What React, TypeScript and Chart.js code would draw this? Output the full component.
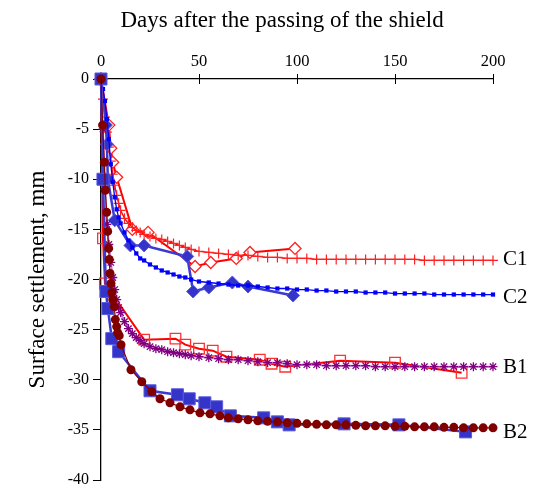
import React, { useEffect, useRef } from "react";
import { Chart, registerables } from "chart.js";

Chart.register(...registerables);

const FONT = "'Liberation Serif', 'Times New Roman', serif";

// ---- Data ----
const xTicks = [0, 50, 100, 150, 200];
const yTicks = [0, -5, -10, -15, -20, -25, -30, -35, -40];
const xTitle = "Days after the passing of the shield";
const yTitle = "Surface settlement, mm";

const c1DiamondDays = [0, 4, 5, 6, 8, 16, 24, 48, 56, 69, 76, 99];
const c1DiamondVals = [0, -4.6, -6.9, -8.3, -9.8, -15.0, -15.3, -18.7, -18.3, -17.9, -17.3, -16.9];

const c1CrossDays = [0, 1, 2, 3, 4, 5, 6, 7, 8, 9, 10, 12, 14, 16, 18, 20, 22, 25, 28, 31, 34, 37, 40, 43, 46, 50, 55, 60, 65, 70, 75, 80, 85, 90, 95, 100, 105, 110, 115, 120, 125, 130, 135, 140, 145, 150, 155, 160, 165, 170, 175, 180, 185, 190, 195, 200];
const c1CrossVals = [0, -2.0, -3.8, -5.3, -6.8, -8.2, -9.5, -10.6, -11.6, -12.4, -13.1, -13.9, -14.4, -14.8, -15.1, -15.3, -15.5, -15.7, -15.9, -16.0, -16.2, -16.4, -16.6, -16.8, -17.0, -17.2, -17.3, -17.4, -17.5, -17.6, -17.6, -17.7, -17.8, -17.8, -17.9, -17.9, -17.9, -18.0, -18.0, -18.0, -18.0, -18.0, -18.0, -18.0, -18.0, -18.0, -18.0, -18.0, -18.1, -18.1, -18.1, -18.1, -18.1, -18.1, -18.1, -18.1];

const c2DiamondDays = [0, 2.5, 3, 3.5, 7, 15, 22, 44, 47, 55, 67, 75, 98];
const c2DiamondVals = [0, -4.6, -6.5, -10.0, -14.1, -16.6, -16.6, -17.7, -21.2, -20.8, -20.3, -20.7, -21.6];

const c2SquareDays = [0, 1, 2, 3, 4, 5, 6, 7, 8, 9, 10, 12, 14, 16, 18, 20, 22, 25, 28, 31, 34, 37, 40, 43, 46, 50, 55, 60, 65, 70, 75, 80, 85, 90, 95, 100, 105, 110, 115, 120, 125, 130, 135, 140, 145, 150, 155, 160, 165, 170, 175, 180, 185, 190, 195, 200];
const c2SquareVals = [0, -1.0, -2.2, -4.0, -6.0, -8.5, -10.3, -11.8, -13.0, -13.8, -14.4, -15.3, -16.1, -16.8, -17.4, -17.9, -18.1, -18.5, -18.8, -19.1, -19.3, -19.5, -19.7, -19.8, -20.0, -20.2, -20.3, -20.4, -20.5, -20.6, -20.6, -20.7, -20.8, -20.9, -20.9, -21.0, -21.0, -21.1, -21.1, -21.2, -21.2, -21.2, -21.3, -21.3, -21.3, -21.4, -21.4, -21.4, -21.4, -21.5, -21.5, -21.5, -21.5, -21.5, -21.5, -21.5];

const b1SquareDays = [0, 1, 2, 22, 38, 43, 50, 57, 64, 81, 87, 94, 122, 150, 184];
const b1SquareVals = [0, -15.9, -20.4, -26.0, -25.9, -26.5, -26.9, -27.1, -27.7, -28.0, -28.4, -28.7, -28.1, -28.3, -29.3];

const b1StarDays = [0, 1, 2, 3, 4, 5, 6, 7, 8, 9, 10, 12, 14, 16, 18, 20, 22, 25, 28, 31, 34, 37, 40, 43, 46, 50, 55, 60, 65, 70, 75, 80, 85, 90, 95, 100, 105, 110, 115, 120, 125, 130, 135, 140, 145, 150, 155, 160, 165, 170, 175, 180, 185, 190, 195, 200];
const b1StarVals = [0, -5.0, -11.0, -14.5, -16.5, -18.3, -19.8, -21.0, -22.0, -22.8, -23.3, -24.2, -24.9, -25.4, -25.8, -26.1, -26.4, -26.7, -26.9, -27.0, -27.2, -27.3, -27.4, -27.5, -27.6, -27.7, -27.8, -27.9, -28.0, -28.0, -28.1, -28.2, -28.3, -28.3, -28.4, -28.5, -28.5, -28.5, -28.6, -28.6, -28.6, -28.6, -28.6, -28.7, -28.7, -28.7, -28.7, -28.7, -28.7, -28.7, -28.7, -28.7, -28.7, -28.7, -28.7, -28.7];

const b2SquareDays = [0, 1, 2.5, 3.5, 5.5, 9, 25, 39, 45, 53, 59, 66, 83, 90, 96, 124, 152, 186];
const b2SquareVals = [0, -10.0, -21.2, -22.9, -25.9, -27.2, -31.1, -31.5, -31.9, -32.3, -32.7, -33.6, -33.8, -34.2, -34.5, -34.4, -34.5, -35.2];

const b2CircleDays = [0, 0.8, 1.7, 2.2, 2.9, 3.4, 3.9, 4.2, 4.6, 5.1, 5.6, 6, 6.8, 7.3, 8, 8.5, 9.3, 10.2, 15.3, 20.8, 25.9, 30.1, 35.2, 40.3, 45.4, 50.5, 55.6, 60.7, 65, 70, 75, 80, 85, 90, 95, 100, 105, 110, 115, 120, 125, 130, 135, 140, 145, 150, 155, 160, 165, 170, 175, 180, 185, 190, 195, 200];
const b2CircleVals = [0, -4.6, -8.3, -11.1, -13.3, -15.2, -16.9, -18.0, -19.4, -20.4, -21.3, -22.0, -22.7, -24.0, -24.7, -25.3, -25.6, -26.5, -29.0, -30.2, -31.2, -31.9, -32.3, -32.7, -33.0, -33.3, -33.4, -33.6, -33.8, -33.9, -34.0, -34.1, -34.15, -34.2, -34.3, -34.35, -34.4, -34.45, -34.5, -34.5, -34.5, -34.55, -34.6, -34.6, -34.6, -34.65, -34.65, -34.7, -34.7, -34.7, -34.75, -34.75, -34.8, -34.8, -34.8, -34.8];

const seriesLabels = ["C1", "C2", "B1", "B2"];
const seriesLabelVals = [c1CrossVals, c2SquareVals, b1StarVals, b2CircleVals];

const pts = (xs: number[], ys: number[]) => xs.map((x, i) => ({ x, y: ys[i] }));

const LABEL_NUDGE = [-1, 3, 1, 5];

const textPlugin = {
  id: "textPlugin",
  afterDraw(chart: any) {
    const { ctx, scales, chartArea } = chart;
    ctx.save();
    // inward half of the x tick marks (ticks cross the axis)
    ctx.strokeStyle = "#000";
    ctx.lineWidth = 1;
    xTicks.forEach((v) => {
      const px = Math.round(scales.x.getPixelForValue(v)) + 0.5;
      ctx.beginPath();
      ctx.moveTo(px, chartArea.top);
      ctx.lineTo(px, chartArea.top + 5);
      ctx.stroke();
    });
    ctx.fillStyle = "#000";
    // end labels
    ctx.font = `21px ${FONT}`;
    ctx.textBaseline = "middle";
    ctx.textAlign = "left";
    seriesLabels.forEach((lab, i) => {
      const vals = seriesLabelVals[i];
      const x = scales.x.getPixelForValue(200) + 10;
      const y = scales.y.getPixelForValue(vals[vals.length - 1]) + LABEL_NUDGE[i];
      ctx.fillText(lab, x, y);
    });
    // x title (top)
    ctx.font = `23px ${FONT}`;
    ctx.textAlign = "center";
    ctx.fillText(xTitle, chartArea.left + (chartArea.right - chartArea.left) * 0.462, 21);
    // y title (rotated)
    ctx.translate(38, (chartArea.top + chartArea.bottom) / 2);
    ctx.rotate(-Math.PI / 2);
    ctx.fillText(yTitle, 0, 0);
    ctx.restore();
  },
};

export default function App() {
  const ref = useRef<HTMLCanvasElement | null>(null);
  useEffect(() => {
    document.body.style.margin = "0";
    const canvas = ref.current;
    if (!canvas) return;
    const base = { showLine: true, tension: 0, clip: false as any };
    const chart = new Chart(canvas, {
      type: "scatter",
      data: {
        datasets: [
          { ...base, label: "B2 circles", data: pts(b2CircleDays, b2CircleVals), borderColor: "#800000", borderWidth: 1.2, pointStyle: "circle", pointRadius: 4.5, pointBackgroundColor: "#800000", pointBorderColor: "#800000", pointBorderWidth: 0 },
          { ...base, label: "B2 squares", data: pts(b2SquareDays, b2SquareVals), borderColor: "#3a3ad0", borderWidth: 2.5, pointStyle: "rect", pointRadius: 8.5, pointBackgroundColor: "#3434c8", pointBorderColor: "#5a5ae0", pointBorderWidth: 1 },
          { ...base, label: "B1 stars", data: pts(b1StarDays, b1StarVals), borderColor: "#c07ad0", borderWidth: 2, pointStyle: "star", pointRadius: 4.5, pointBackgroundColor: "#800080", pointBorderColor: "#800080", pointBorderWidth: 1.3 },
          { ...base, label: "B1 squares", data: pts(b1SquareDays, b1SquareVals), borderColor: "#ff0000", borderWidth: 2, pointStyle: "rect", pointRadius: 7.5, pointBackgroundColor: "rgba(255,255,255,0)", pointBorderColor: "#ff3030", pointBorderWidth: 1.3 },
          { ...base, label: "C2 squares", data: pts(c2SquareDays, c2SquareVals), borderColor: "#0000ff", borderWidth: 1.3, pointStyle: "rect", pointRadius: 3, pointBackgroundColor: "#0000ff", pointBorderColor: "#0000ff", pointBorderWidth: 0 },
          { ...base, label: "C2 diamonds", data: pts(c2DiamondDays, c2DiamondVals), borderColor: "#3a3ad0", borderWidth: 2.5, pointStyle: "rectRot", pointRadius: 6.5, pointBackgroundColor: "#3434c8", pointBorderColor: "#5a5ae0", pointBorderWidth: 1 },
          { ...base, label: "C1 crosses", data: pts(c1CrossDays, c1CrossVals), borderColor: "#ff0000", borderWidth: 1.3, pointStyle: "cross", pointRadius: 5, pointBackgroundColor: "#ff0000", pointBorderColor: "#ff2020", pointBorderWidth: 1.2 },
          { ...base, label: "C1 diamonds", data: pts(c1DiamondDays, c1DiamondVals), borderColor: "#ff0000", borderWidth: 2, pointStyle: "rectRot", pointRadius: 6, pointBackgroundColor: "#ffffff", pointBorderColor: "#ff2020", pointBorderWidth: 1.3 },
        ],
      },
      options: {
        animation: false,
        responsive: false,
        maintainAspectRatio: false,
        layout: { autoPadding: false, padding: { left: 0, right: 40, top: 0, bottom: 6 } },
        plugins: { legend: { display: false }, tooltip: { enabled: false } },
        scales: {
          x: {
            type: "linear",
            position: "top",
            min: 0,
            max: 200,
            afterBuildTicks: (s: any) => { s.ticks = xTicks.map((v) => ({ value: v })); },
            afterFit: (s: any) => { s.height = 79; s.paddingLeft = 0; s.paddingRight = 0; },
            ticks: { color: "#000", font: { family: FONT, size: 16.5 }, padding: 2, maxRotation: 0 },
            grid: { drawOnChartArea: false, drawTicks: true, tickLength: 5, color: "#000", lineWidth: 1 },
            border: { color: "#000", width: 1.3 },
            title: { display: false },
          },
          y: {
            type: "linear",
            position: "left",
            min: -40,
            max: 0,
            afterBuildTicks: (s: any) => { s.ticks = yTicks.map((v) => ({ value: v })); },
            afterFit: (s: any) => { s.width = 101; s.paddingTop = 0; s.paddingBottom = 0; },
            ticks: { color: "#000", font: { family: FONT, size: 16 }, padding: 4 },
            grid: { drawOnChartArea: false, drawTicks: true, tickLength: 8, color: "#000", lineWidth: 1 },
            border: { color: "#000", width: 1.3 },
            title: { display: false },
          },
        },
      },
      plugins: [textPlugin],
    } as any);
    return () => chart.destroy();
  }, []);
  return (
    <div style={{ width: 533, height: 486 }}>
      <canvas ref={ref} width={533} height={486} style={{ width: 533, height: 486, display: "block" }} />
    </div>
  );
}
